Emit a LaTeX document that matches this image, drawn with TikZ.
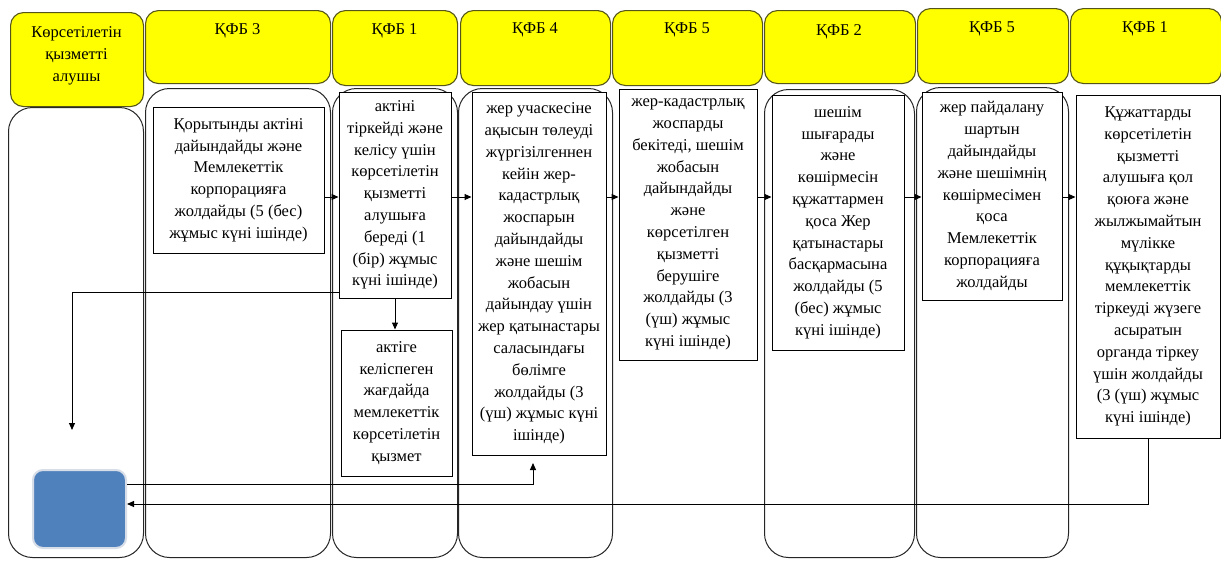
\documentclass[tikz,border=0pt]{standalone}
\usepackage{fontspec}
\setmainfont{Liberation Serif}
\usetikzlibrary{arrows.meta}
\definecolor{hdrline}{RGB}{85,85,25}
\definecolor{hdrfill}{RGB}{255,255,0}
\definecolor{sqblue}{RGB}{79,129,189}
\definecolor{sqedge}{RGB}{215,222,232}
\begin{document}
\begin{tikzpicture}[x=1pt,y=-1pt,
  txt/.style={font=\fontsize{16.5}{21.8}\selectfont, align=center, inner sep=0pt},
  hdr/.style={draw=hdrline, fill=hdrfill, rounded corners=13pt, line width=1.1pt, anchor=north west, inner sep=0pt},
  lane/.style={draw=black!85, rounded corners=24pt, line width=1pt, anchor=north west, inner sep=0pt},
  box/.style={txt, draw=black, fill=white, line width=1pt},
  sq/.style={fill=sqblue, draw=sqedge, line width=2pt, rounded corners=10pt, inner sep=0pt},
  arr/.style={-{Triangle[length=7pt,width=6pt]}, line width=1pt, draw=black}]
\useasboundingbox (0,0) rectangle (1221,560);
\fill[white] (0,0) rectangle (1221,560);

% lanes
\node[lane, minimum width=135, minimum height=450] (l0) at (8,107) {};
\node[lane, minimum width=185, minimum height=469] (l1) at (145,88) {};
\node[lane, minimum width=125, minimum height=469] (l2) at (332,88) {};
\node[lane, minimum width=154, minimum height=469] (l3) at (458,88) {};
\node[lane, minimum width=150, minimum height=468] (l5) at (764,89) {};
\node[lane, minimum width=152, minimum height=470] (l6) at (916,87) {};

% headers
\node[hdr, minimum width=133, minimum height=94] (h0) at (10,12) {};
\node[hdr, minimum width=185, minimum height=73] (h1) at (145,10) {};
\node[hdr, minimum width=125, minimum height=75] (h2) at (332,10) {};
\node[hdr, minimum width=150, minimum height=75] (h3) at (460,10) {};
\node[hdr, minimum width=150, minimum height=75] (h4) at (612,10) {};
\node[hdr, minimum width=151, minimum height=73] (h5) at (764,10) {};
\node[hdr, minimum width=151, minimum height=75] (h6) at (917,8) {};
\node[hdr, minimum width=151, minimum height=75] (h7) at (1070,8) {};

\node[txt] (t0) at (76.5,56) {Көрсетілетін\\қызметті\\алушы};
\node[txt] (t1) at (237.5,31) {ҚФБ 3};
\node[txt] (t2) at (394.5,31) {ҚФБ 1};
\node[txt] (t3) at (535,30) {ҚФБ 4};
\node[txt] (t4) at (687,30) {ҚФБ 5};
\node[txt] (t5) at (839,32) {ҚФБ 2};
\node[txt] (t6) at (992,29) {ҚФБ 5};
\node[txt] (t7) at (1145,29) {ҚФБ 1};

% boxes
\node[box, minimum width=171, minimum height=146] (b1) at (238.5,180)
  {Қорытынды актіні\\дайындайды және\\Мемлекеттік\\корпорацияға\\жолдайды (5 (бес)\\жұмыс күні ішінде)};
\node[box, minimum width=112, minimum height=206] (b2) at (395,195)
  {актіні\\тіркейді және\\келісу үшін\\көрсетілетін\\қызметті\\алушыға\\береді (1\\(бір) жұмыс\\күні ішінде)};
\node[box, minimum width=111, minimum height=146] (b2b) at (396.5,403)
  {актіге\\келіспеген\\жағдайда\\мемлекеттік\\көрсетілетін\\қызмет};
\node[box, minimum width=134, minimum height=363] (b3) at (539,273.5)
  {жер учаскесіне\\ақысын төлеуді\\жүргізілгеннен\\кейін жер-\\кадастрлық\\жоспарын\\дайындайды\\және шешім\\жобасын\\дайындау үшін\\жер қатынастары\\саласындағы\\бөлімге\\жолдайды (3\\(үш) жұмыс күні\\ішінде)};
\node[box, minimum width=138, minimum height=271] (b4) at (688,224.5)
  {жер-кадастрлық\\жоспарды\\бекітеді, шешім\\жобасын\\дайындайды\\және\\көрсетілген\\қызметті\\берушіге\\жолдайды (3\\(үш) жұмыс\\күні ішінде)};
\node[box, minimum width=132, minimum height=255] (b5) at (838,222.5)
  {шешім\\шығарады\\және\\көшірмесін\\құжаттармен\\қоса Жер\\қатынастары\\басқармасына\\жолдайды (5\\(бес) жұмыс\\күні ішінде)};
\node[box, minimum width=140, minimum height=208] (b6) at (992,196)
  {жер пайдалану\\шартын\\дайындайды\\және шешімнің\\көшірмесімен\\қоса\\Мемлекеттік\\корпорацияға\\жолдайды};
\node[box, minimum width=144, minimum height=343] (b7) at (1148,266.5)
  {Құжаттарды\\көрсетілетін\\қызметті\\алушыға қол\\қоюға және\\жылжымайтын\\мүлікке\\құқықтарды\\мемлекеттік\\тіркеуді жүзеге\\асыратын\\органда тіркеу\\үшін жолдайды\\(3 (үш) жұмыс\\күні ішінде)};

% blue square
\node[sq, minimum width=93, minimum height=78] (sq) at (79.5,509) {};

% free ends
\coordinate (c1) at (72,430);
\coordinate (c2) at (533,463);

% connectors
\draw[arr] (b1.east |- 0,197) -- (b2.west |- 0,197);
\draw[arr] (b2.east |- 0,197) -- (b3.west |- 0,197);
\draw[arr] (b3.east |- 0,197) -- (b4.west |- 0,197);
\draw[arr] (b4.east |- 0,197) -- (b5.west |- 0,197);
\draw[arr] (b5.east |- 0,197) -- (b6.west |- 0,197);
\draw[arr] (b6.east |- 0,197) -- (b7.west |- 0,197);
\draw[arr] (b2.south) -- (b2.south |- b2b.north);
\draw[arr] (b2.west |- 0,292) -| (c1);
\draw[arr] (sq.east |- 0,484) -| (c2);
\draw[arr] (b7.south) -- (b7.south |- 0,504) -- (sq.east |- 0,504);
\end{tikzpicture}
\end{document}
